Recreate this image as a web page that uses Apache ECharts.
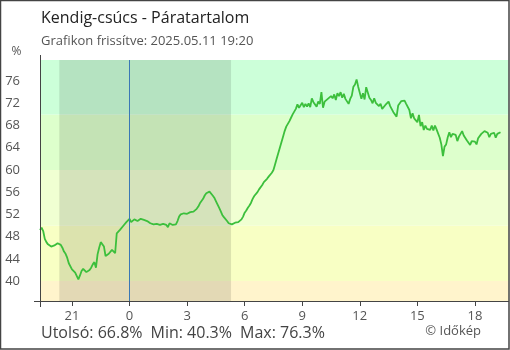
<!DOCTYPE html>
<html>
<head>
<meta charset="utf-8">
<script src="https://cdn.jsdelivr.net/npm/echarts@6/dist/echarts.min.js"></script>
<style>
html,body{margin:0;padding:0;background:#fff;}
#c{width:510px;height:350px;}
</style>
</head>
<body>
<div id="c"></div>
<script>
// ---- data ----
const titleText = 'Kendig-csúcs - Páratartalom';
const subtitleText = 'Grafikon frissítve: 2025.05.11 19:20';
const unitText = '%';
const footerLast = 'Utolsó: 66.8%';
const footerMin = 'Min: 40.3%';
const footerMax = 'Max: 76.3%';
const creditText = '© Időkép';

// hours relative to midnight (19:20 previous day = -4.6667), 5-minute readings
const startHour = -4.6667;
const stepMinutes = 5;
const humidity = [
49.2,49.6,49.0,47.6,47.0,46.6,46.8,46.2,45.9,46.4,46.3,46.8,46.9,46.5,46.0,45.3,44.9,44.2,43.2,42.9,
42.1,41.8,41.5,41.2,40.3,41.0,41.8,42.2,42.0,41.6,41.7,42.0,42.4,43.0,43.4,42.4,44.8,46.0,47.0,46.9,
46.2,44.5,44.2,44.9,44.6,45.6,45.3,45.0,48.6,48.9,49.2,49.5,49.9,50.1,50.6,50.8,51.2,50.6,50.8,51.1,
51.0,50.8,51.1,51.2,50.9,51.0,51.1,50.8,50.5,50.4,50.3,50.2,50.2,50.3,50.2,50.1,50.1,50.3,50.2,50.1,
49.7,50.4,50.5,50.1,49.8,50.2,50.8,51.6,52.0,52.2,52.2,52.0,52.1,52.3,52.4,52.6,52.5,52.7,53.0,53.4,
54.0,54.4,54.8,55.4,55.8,56.1,56.1,55.8,55.4,55.0,54.4,53.8,53.2,52.6,51.9,51.5,51.2,50.8,50.4,50.2,
50.2,49.9,50.5,50.4,50.6,50.8,51.1,51.6,52.3,52.7,53.2,53.6,54.1,54.8,55.3,55.6,56.0,56.5,56.8,57.3,
57.8,57.9,58.4,58.8,59.0,59.5,60.0,61.0,62.0,63.0,64.0,65.0,66.0,67.0,67.8,68.3,68.8,69.4,70.0,70.5,
71.0,71.8,71.2,71.0,72.1,71.3,71.9,71.4,72.0,71.3,72.9,72.2,72.4,71.4,72.3,71.9,74.0,71.2,72.3,72.0,
72.8,72.5,73.3,72.9,73.6,72.6,73.8,73.3,74.0,73.0,73.7,72.8,73.1,71.9,72.8,73.4,75.0,75.4,76.3,75.0,
74.7,72.8,73.8,72.7,74.9,75.1,73.0,72.6,72.0,72.9,72.1,72.4,71.5,71.9,71.0,71.2,71.7,71.6,72.3,71.5,
71.8,70.4,70.3,69.6,71.6,71.3,72.4,72.1,72.5,71.9,72.2,70.8,69.3,70.2,69.3,69.5,68.6,69.9,67.9,68.6,
67.2,68.0,67.4,67.5,67.2,68.0,67.1,68.0,67.3,67.2,65.8,64.6,62.5,64.2,64.6,65.9,66.8,65.9,66.5,66.2,
66.3,65.2,66.0,66.1,67.0,66.2,66.4,65.3,65.2,64.5,65.2,65.0,65.1,64.6,65.7,65.8,66.5,66.3,67.0,66.7,
66.7,65.9,66.5,66.3,66.7,65.8,66.5,66.4,66.8
];

const xMin = -4.6667, xMax = 19.75;
const yMin = 36.4, yMax = 79.8;
const yTicks = [40,44,48,52,56,60,64,68,72,76];
const xTicks = [-3,0,3,6,9,12,15,18];
const xTickLabels = ['21','0','3','6','9','12','15','18'];
const bandEdges = [36.4, 40, 50, 60, 70, 79.8];
const bandColors = ['#fff4cc','#f8ffc4','#f0ffd2','#ddffcc','#ccffd9'];
const nightStart = -3.66, nightEnd = 5.29;
const midnight = 0;

// ---- chart ----
const seriesData = humidity.map((v, i) => [startHour + i * stepMinutes / 60, v]);
const bandAreas = bandColors.map((c, i) => [
  { yAxis: bandEdges[i], itemStyle: { color: c } },
  { yAxis: bandEdges[i + 1] }
]);

const FONT = '"Open Sans", "Noto Sans", sans-serif';
const chart = echarts.init(document.getElementById('c'), null, { renderer: 'canvas' });

const xCommon = {
  type: 'value', min: xMin, max: xMax,
  axisLine: { show: false }, splitLine: { show: false }
};
const yCommon = {
  type: 'value', min: yMin, max: yMax,
  axisLine: { show: false }, splitLine: { show: false }
};

chart.setOption({
  animation: false,
  grid: { left: 40, right: 1.5, top: 60, bottom: 49, containLabel: false },
  xAxis: [
    Object.assign({}, xCommon, {
      axisTick: { show: true, length: 5, lineStyle: { color: '#444' }, customValues: xTicks },
      axisLabel: {
        customValues: xTicks, margin: 9, color: '#555', fontSize: 13, fontFamily: FONT,
        formatter: (v) => { const k = xTicks.findIndex(t => Math.abs(t - v) < 1e-6); return k >= 0 ? xTickLabels[k] : ''; }
      }
    }),
    Object.assign({}, xCommon, {
      position: 'bottom',
      axisTick: { show: true, inside: true, length: 7, lineStyle: { color: '#444' }, customValues: xTicks },
      axisLabel: { show: false }
    })
  ],
  yAxis: [
    Object.assign({}, yCommon, {
      axisTick: { show: true, length: 6, lineStyle: { color: '#444' }, customValues: yTicks },
      axisLabel: { customValues: yTicks, margin: 20, color: '#555', fontSize: 13, fontFamily: FONT }
    }),
    Object.assign({}, yCommon, {
      position: 'left',
      axisTick: { show: true, inside: true, length: 6, lineStyle: { color: '#444' }, customValues: yTicks },
      axisLabel: { show: false }
    })
  ],
  series: [
    {
      type: 'line', data: [], silent: true, z: 1,
      markArea: { silent: true, data: bandAreas }
    },
    {
      type: 'line', data: [], silent: true, z: 2,
      markArea: { silent: true, itemStyle: { color: 'rgba(0,0,0,0.11)' },
        data: [[{ xAxis: nightStart }, { xAxis: nightEnd }]] }
    },
    {
      type: 'line', data: [], silent: true, z: 3,
      markLine: { silent: true, symbol: 'none', label: { show: false },
        lineStyle: { color: '#3a78b5', width: 1, type: 'solid' },
        data: [{ xAxis: midnight }] }
    },
    {
      type: 'line', data: seriesData, z: 4, showSymbol: false, smooth: false,
      lineStyle: { color: '#3cbf3c', width: 1.8 },
      itemStyle: { color: '#3cbf3c' }
    }
  ],
  graphic: [
    { type: 'rect', shape: { x: 0.5, y: 0.5, width: 508.5, height: 348.5 },
      style: { fill: 'none', stroke: '#444', lineWidth: 1.5 }, silent: true, z: 10 },
    { type: 'line', shape: { x1: 40.5, y1: 55, x2: 40.5, y2: 307 },
      style: { stroke: '#444', lineWidth: 1 }, silent: true, z: 10 },
    { type: 'line', shape: { x1: 34, y1: 301.5, x2: 509, y2: 301.5 },
      style: { stroke: '#444', lineWidth: 1 }, silent: true, z: 10 },
    { type: 'text', x: 41, y: 18, style: { text: titleText, fill: '#222', font: '16px ' + FONT, textVerticalAlign: 'middle' }, z: 10 },
    { type: 'text', x: 41, y: 41.5, style: { text: subtitleText, fill: '#555', font: '13px ' + FONT, textVerticalAlign: 'middle' }, z: 10 },
    { type: 'text', x: 16.5, y: 51.5, style: { text: unitText, fill: '#555', font: '12px ' + FONT, textAlign: 'center', textVerticalAlign: 'middle' }, z: 10 },
    { type: 'text', x: 41, y: 333, style: { text: footerLast, fill: '#444', font: '16px ' + FONT, textVerticalAlign: 'middle' }, z: 10 },
    { type: 'text', x: 150.5, y: 333, style: { text: footerMin, fill: '#444', font: '16px ' + FONT, textVerticalAlign: 'middle' }, z: 10 },
    { type: 'text', x: 240, y: 333, style: { text: footerMax, fill: '#444', font: '16px ' + FONT, textVerticalAlign: 'middle' }, z: 10 },
    { type: 'text', x: 481, y: 331.5, style: { text: creditText, fill: '#555', font: '13px ' + FONT, textAlign: 'right', textVerticalAlign: 'middle' }, z: 10 }
  ]
});
</script>
</body>
</html>
